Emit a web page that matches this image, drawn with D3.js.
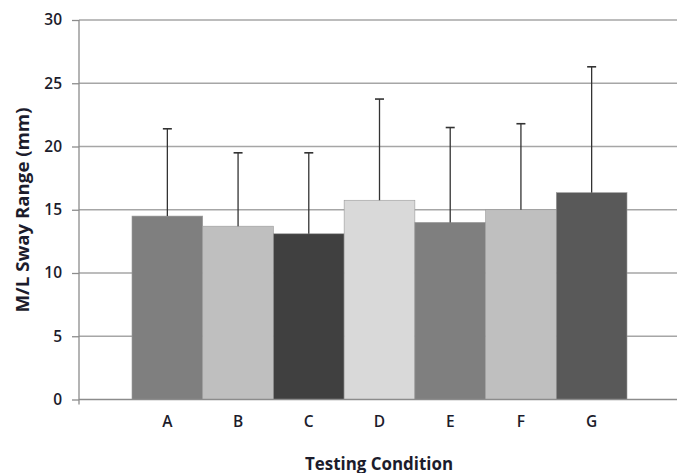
<!DOCTYPE html>
<html>
<head>
<meta charset="utf-8">
<script src="https://cdn.jsdelivr.net/npm/d3@7"></script>
<style>
  body { margin: 0; background: #fff; }
  svg text { font-family: "Open Sans", "DejaVu Sans", sans-serif; fill: #1c1c2c; }
</style>
</head>
<body>
<div id="chart"></div>
<script>
// Data
const conditions = ["A", "B", "C", "D", "E", "F", "G"];
const swayMeans = [14.5, 13.7, 13.1, 15.75, 14.0, 15.0, 16.35];
const swayErrors = [6.9, 5.8, 6.4, 8.0, 7.5, 6.8, 9.95];
const barColors = ["#7f7f7f", "#bfbfbf", "#404040", "#d9d9d9", "#7f7f7f", "#bfbfbf", "#595959"];
const yTicks = [0, 5, 10, 15, 20, 25, 30];

const width = 677, height = 473;
const plotLeft = 79, plotRight = 677, plotTop = 20, plotBottom = 399.5;

const svg = d3.select("#chart")
    .append("svg")
    .attr("width", width)
    .attr("height", height);

const y = d3.scaleLinear()
    .domain([0, 30])
    .range([plotBottom, plotTop]);

// the bars sit in one cluster in the middle of the plot
const x = d3.scaleBand()
    .domain(conditions)
    .range([132, 627])
    .padding(0);

// gridlines
svg.append("g")
    .selectAll("line")
    .data(yTicks.filter(d => d > 0))
    .enter()
    .append("line")
    .attr("x1", plotLeft)
    .attr("x2", plotRight)
    .attr("y1", d => y(d))
    .attr("y2", d => y(d))
    .attr("stroke", "#a6a6a6")
    .attr("stroke-width", 1.3);

// y axis
const yAxis = svg.append("g")
    .attr("transform", "translate(" + plotLeft + ",0)")
    .call(d3.axisLeft(y).tickValues(yTicks).tickSize(7).tickPadding(10));
yAxis.select(".domain").remove();
yAxis.selectAll(".tick line").attr("stroke", "#8c8c8c").attr("stroke-width", 1.3);
yAxis.selectAll(".tick text")
    .style("font-size", "15.5px")
    .style("font-weight", "600")
    .attr("fill", "#1c1c2c");
svg.append("line")
    .attr("x1", plotLeft).attr("x2", plotLeft)
    .attr("y1", plotTop).attr("y2", plotBottom + 5)
    .attr("stroke", "#8c8c8c")
    .attr("stroke-width", 1.3);

// bars
svg.append("g")
    .selectAll("rect")
    .data(conditions)
    .enter()
    .append("rect")
    .attr("x", d => x(d))
    .attr("y", (d, i) => y(swayMeans[i]))
    .attr("width", x.bandwidth())
    .attr("height", (d, i) => y(0) - y(swayMeans[i]))
    .attr("fill", (d, i) => barColors[i])
    .attr("stroke", "#9a9a9a")
    .attr("stroke-width", 0.6);

// x axis line
svg.append("line")
    .attr("x1", plotLeft).attr("x2", plotRight)
    .attr("y1", plotBottom).attr("y2", plotBottom)
    .attr("stroke", "#8c8c8c")
    .attr("stroke-width", 1.3);

// error bars (upper only)
const err = svg.append("g")
    .selectAll("g")
    .data(conditions)
    .enter()
    .append("g");
err.append("line")
    .attr("x1", d => x(d) + x.bandwidth() / 2)
    .attr("x2", d => x(d) + x.bandwidth() / 2)
    .attr("y1", (d, i) => y(swayMeans[i]))
    .attr("y2", (d, i) => y(swayMeans[i] + swayErrors[i]))
    .attr("stroke", "#333")
    .attr("stroke-width", 1.3);
err.append("line")
    .attr("x1", d => x(d) + x.bandwidth() / 2 - 4.5)
    .attr("x2", d => x(d) + x.bandwidth() / 2 + 4.5)
    .attr("y1", (d, i) => y(swayMeans[i] + swayErrors[i]))
    .attr("y2", (d, i) => y(swayMeans[i] + swayErrors[i]))
    .attr("stroke", "#333")
    .attr("stroke-width", 1.6);

// category labels
svg.append("g")
    .selectAll("text")
    .data(conditions)
    .enter()
    .append("text")
    .attr("x", d => x(d) + x.bandwidth() / 2)
    .attr("y", 427)
    .attr("text-anchor", "middle")
    .style("font-size", "15.5px")
    .style("font-weight", "600")
    .text(d => d);

// axis titles
svg.append("text")
    .attr("x", 379)
    .attr("y", 469.5)
    .attr("text-anchor", "middle")
    .attr("textLength", 148)
    .attr("lengthAdjust", "spacingAndGlyphs")
    .style("font-size", "17px")
    .style("font-weight", "700")
    .text("Testing Condition");

svg.append("text")
    .attr("transform", "translate(29,210) rotate(-90)")
    .attr("text-anchor", "middle")
    .attr("textLength", 205)
    .attr("lengthAdjust", "spacingAndGlyphs")
    .style("font-size", "17px")
    .style("font-weight", "700")
    .text("M/L Sway Range (mm)");
</script>
</body>
</html>
